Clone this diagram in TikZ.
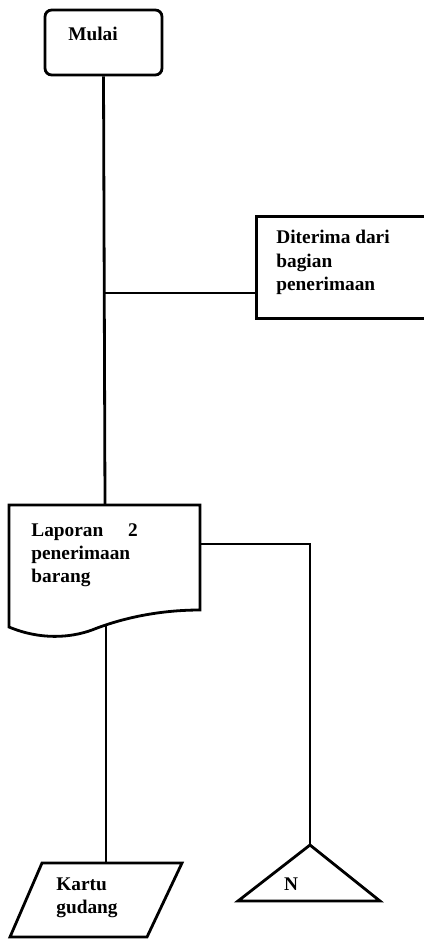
\documentclass[tikz,border=0pt]{standalone}
\usepackage{fontspec}
\setmainfont{Liberation Serif}
\begin{document}
\begin{tikzpicture}[x=0.75pt,y=-0.75pt,line width=2.1pt,line join=miter,
  lbl/.style={font=\fontsize{14.5}{17.5}\selectfont\bfseries,inner sep=0pt,align=left},
  boxshape/.style={draw,inner sep=0pt}]
\useasboundingbox (0,0) rectangle (424,939);
\clip (0,0) rectangle (424,939);
% Mulai
\node[boxshape,rounded corners=5pt,minimum width=87.75pt,minimum height=48.75pt] (mulai) at (103.5,42.5) {};
\node[lbl] (mulaitext) at (93,34) {Mulai};
% Diterima dari bagian penerimaan
\node[boxshape,minimum width=146pt,minimum height=76.5pt,anchor=north west] (terima) at (255,215) {};
\node[lbl,anchor=north west] (terimatext) at (275,229) {Diterima dari\\bagian\\penerimaan};
% Document
\draw (9,505) coordinate (doctl) -- (200,505) coordinate (doctr) -- (200,610)
  .. controls (150,610) and (112,622) .. (92,630)
  .. controls (70,638) and (40,640) .. (9,627) -- cycle;
\coordinate (doctop) at (105,505);
\coordinate (docbot) at (106,625);
\coordinate (docright) at (200,544);
\node[lbl,anchor=north west] (doctext) at (30,522) {Laporan\hspace{18.5pt}2\\penerimaan\\barang};
% Kartu gudang (parallelogram)
\draw (42,863) -- (182,863) -- (147,937) -- (10,937) -- cycle;
\coordinate (kartutop) at (106,863);
\node[lbl,anchor=north west] (kartutext) at (55,876) {Kartu\\gudang};
% Triangle N
\coordinate (apex) at (310,845);
\draw (apex) -- (380,901) -- (238,901) -- cycle;
\node[lbl] (ntext) at (291,884) {N};
% Connectors
\draw (mulai.south) -- (doctop);
\coordinate (branch) at (105,293);
\draw (branch) -- (terima.west |- branch);
\draw (docbot) -- (kartutop);
\draw (docright) -- (apex |- docright) -- (apex);
\end{tikzpicture}
\end{document}
